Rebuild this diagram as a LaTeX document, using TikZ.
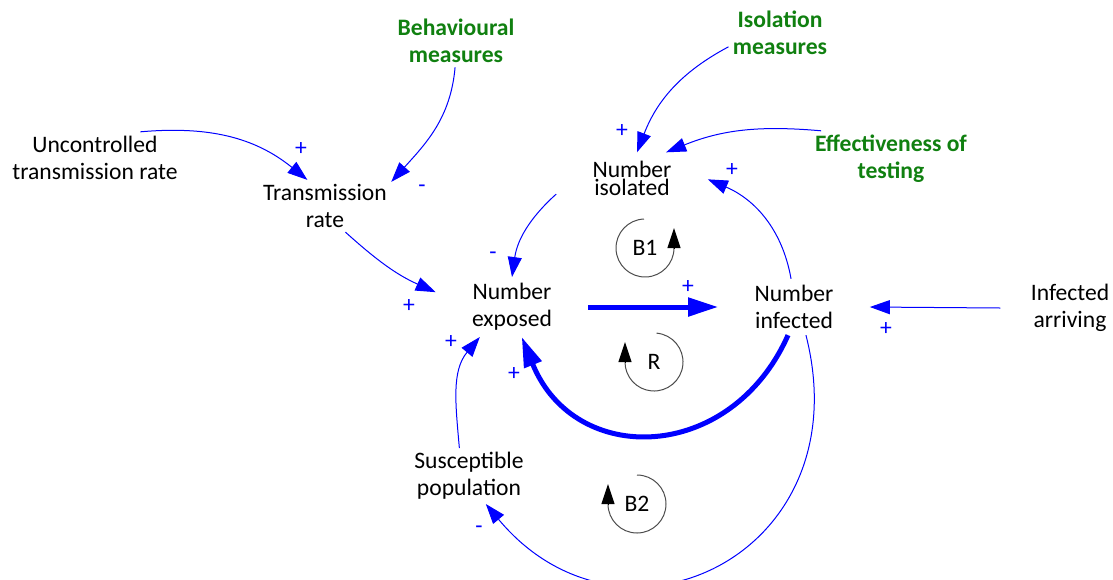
\documentclass[tikz,border=0pt]{standalone}
\usepackage{fontspec}
\setmainfont{Carlito}
\usetikzlibrary{arrows.meta}
\definecolor{cldblue}{RGB}{0,0,255}
\definecolor{cldgreen}{RGB}{16,128,16}
\tikzstyle{var} = [align=center, inner sep=2pt, font=\fontsize{11.8}{13.5}\selectfont]
\tikzstyle{stock} = [var, inner xsep=18pt, inner ysep=3pt]
\tikzstyle{policy} = [var, text=cldgreen, font=\fontsize{11.8}{13.5}\selectfont\bfseries]
\tikzstyle{link} = [draw=cldblue, line width=0.5pt, -{Triangle[length=10pt,width=7pt]}]
\tikzstyle{mainlink} = [draw=cldblue, line width=2.5pt, -{Triangle[length=15pt,width=9pt]}]
\tikzstyle{sign} = [text=cldblue, inner sep=0pt, font=\fontsize{11.8}{13.5}\selectfont]
\tikzstyle{loopline} = [draw=black!70, line width=0.5pt]
\tikzstyle{looptip} = [-{Triangle[length=10pt,width=6.5pt]}, line width=0.5pt]

\begin{document}
\begin{tikzpicture}[x=0.5pt, y=0.5pt]
    \useasboundingbox (0,0) rectangle (1113,-579);
    % variables
    \node[var] (unc) at (95,-158) {Uncontrolled\\transmission rate};
    \node[var] (trate) at (325,-206) {Transmission\\rate};
    \node[policy] (behav) at (456,-41) {Behavioural\\measures};
    \node[policy] (isomeas) at (780,-33) {Isolation\\measures};
    \node[policy] (efftest) at (891,-159) {Effectiveness of\\testing};
    \node[stock, inner ysep=4pt, font=\fontsize{11.8}{9}\selectfont] (niso) at (632,-178) {Number\\isolated};
    \node[stock] (nexp) at (512,-307) {Number\\exposed};
    \node[stock] (ninf) at (794,-307) {Number\\infected};
    \node[var, inner xsep=15pt] (arriv) at (1070,-308) {Infected\\arriving};
    \node[var] (suscep) at (469,-476) {Susceptible\\population};

    % causal links
    \draw[link] (unc.30) to[out=5, in=141] (trate.124);
    \draw[link] (behav.-92) to[out=-95, in=48] (trate.20);
    \draw[link] (trate.-52) to[out=-42, in=156] (nexp.169);
    \draw[link] (isomeas.-165) to[out=-152, in=69] (niso.79);
    \draw[link] (efftest.158) to[out=175, in=22] (niso.37);
    \draw[link] (ninf.96) to[out=100, in=-23] (niso.-1);
    \draw[link] (niso.-168) to[out=-138, in=82] (nexp.90);
    \draw[mainlink] (nexp.east) -- (ninf.west);
    \draw[mainlink] (ninf.-102) to[out=-114, in=-68, looseness=1.35] (nexp.-72);
    \draw[link] (arriv.west) -- (ninf.east);
    \draw[link] (suscep.109) to[out=95, in=-130] (nexp.-137);
    \draw[link] (ninf.-67) .. controls (862,-555) and (622,-668) .. (suscep.-59);

    % polarities
    \node[sign] (p1) at (301,-149) {+};
    \node[sign] (p2) at (422,-189) {-};
    \node[sign] (p3) at (409,-306) {+};
    \node[sign] (p4) at (622,-131) {+};
    \node[sign] (p5) at (732,-170) {+};
    \node[sign] (p6) at (493,-256) {-};
    \node[sign] (p7) at (688,-287) {+};
    \node[sign] (p8) at (514,-374) {+};
    \node[sign] (p9) at (886,-329) {+};
    \node[sign] (p10) at (451,-342) {+};
    \node[sign] (p11) at (479,-530) {-};

    % loop markers
    \node[var] (lb1) at (645,-248) {B1};
    \draw[loopline] (lb1.center) ++(92:14.5pt) arc[start angle=92, end angle=360, radius=14.5pt];
    \draw[looptip] ([xshift=14.5pt]lb1.center) -- ++(0,20);
    \node[var] (lr) at (654,-362) {R};
    \draw[loopline] (lr.center) ++(85:14.5pt) arc[start angle=85, end angle=-180, radius=14.5pt];
    \draw[looptip] ([xshift=-14.5pt]lr.center) -- ++(0,20);
    \node[var] (lb2) at (637,-504) {B2};
    \draw[loopline] (lb2.center) ++(90:14.5pt) arc[start angle=90, end angle=-180, radius=14.5pt];
    \draw[looptip] ([xshift=-14.5pt]lb2.center) -- ++(0,20);
\end{tikzpicture}
\end{document}
